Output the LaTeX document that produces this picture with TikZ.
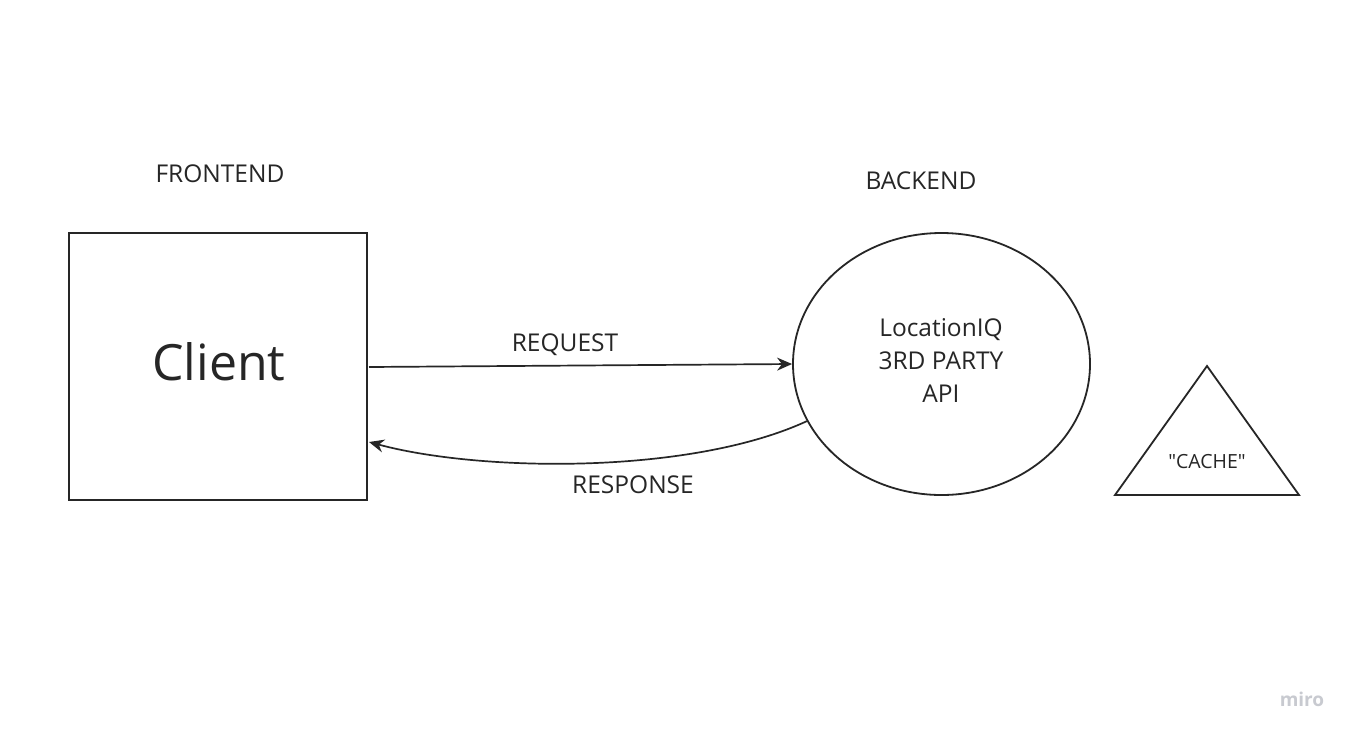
\documentclass[tikz,border=0pt]{standalone}
\usepackage{fontspec}
\setmainfont{Open Sans}
\newfontfamily\plainfont{Open Sans}
\usetikzlibrary{shapes.geometric,arrows.meta}
\definecolor{ink}{HTML}{262626}
\definecolor{logo}{HTML}{C8CAD0}
\begin{document}
\begin{tikzpicture}[x=1pt,y=-1pt,
  shapeline/.style={draw=ink,line width=1.8pt},
  conn/.style={draw=ink,line width=1.7pt,-{Stealth[length=15pt,width=13pt]}},
  lbl/.style={text=ink,font=\fontsize{24.5}{28}\selectfont,inner sep=0pt},
  small/.style={text=ink,font=\plainfont\fontsize{19.5}{22}\selectfont,inner sep=0pt}]
\useasboundingbox (0,0) rectangle (1355,737);
\fill[white] (0,0) rectangle (1355,737);
% frontend box
\node[shapeline,rectangle,minimum width=298pt,minimum height=267pt,inner sep=0pt] (client) at (218,366.5) {};
\node[text=ink,font=\fontsize{50}{54}\selectfont,inner sep=0pt] (clientlbl) at (219,362) {Client};
\node[lbl] (fe) at (220,174) {FRONTEND};
% backend ellipse
\node[shapeline,ellipse,minimum width=297pt,minimum height=262pt,inner sep=0pt] (be) at (941.5,364) {};
\node[lbl,align=center] (api) at (941,361) {LocationIQ\\[5pt]3RD PARTY\\[5pt]API};
\node[lbl] (bel) at (921,181) {BACKEND};
% cache triangle
\coordinate (ta) at (1207,366);
\coordinate (tl) at (1115,495);
\coordinate (tr) at (1299,495);
\draw[shapeline,line join=miter] (ta) -- (tl) -- (tr) -- cycle;
\node[small] (cache) at (1207,462) {"CACHE"};
% connectors
\coordinate (reqs) at (369,367);
\draw[conn] (reqs) -- (be.west);
\node[lbl] (req) at (565,345) {REQUEST};
\coordinate (resend) at (369,442);
\draw[conn] (be.203) .. controls (690,475) and (480,472) .. (resend);
\node[lbl] (resp) at (633,485) {RESPONSE};
% logo
\node[text=logo,font=\fontsize{19}{22}\selectfont\bfseries,inner sep=0pt] (miro) at (1302,699) {miro};
\end{tikzpicture}
\end{document}
